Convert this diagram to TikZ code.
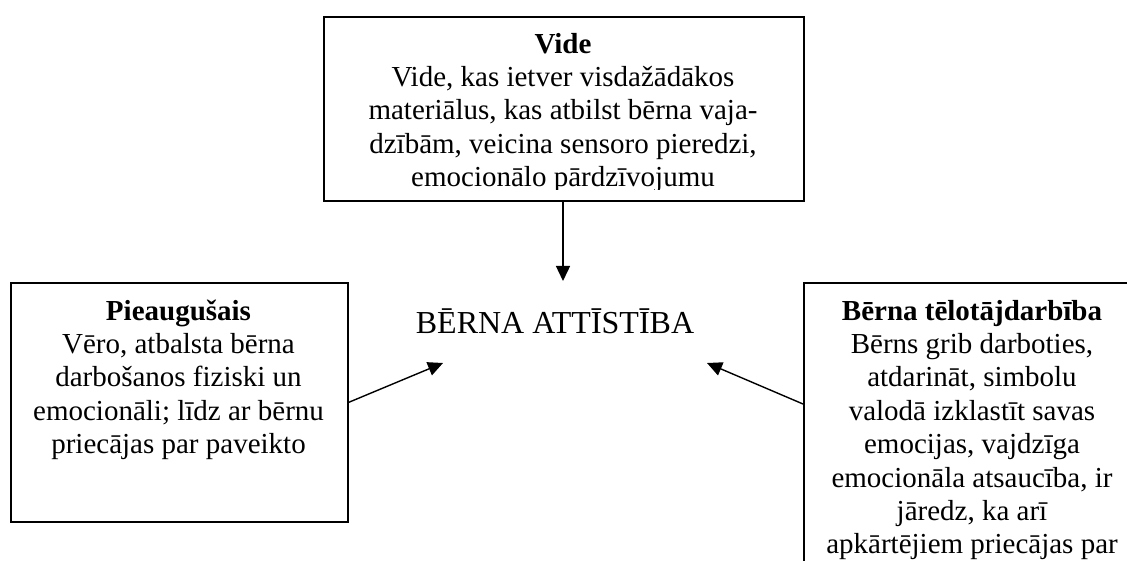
\documentclass[tikz,border=0pt]{standalone}
\usepackage{fontspec}
\setmainfont{Liberation Serif}
\usetikzlibrary{arrows.meta}
\begin{document}
\begin{tikzpicture}[x=1pt,y=-1pt,
  box/.style={draw=black,line width=1.7pt,rectangle,inner sep=0pt,anchor=north west},
  txt/.style={align=center,inner sep=0pt,anchor=north,font=\fontsize{29}{33.4}\selectfont},
  arr/.style={line width=1.4pt,-{Triangle[length=15pt,width=14pt]}}]
\path[use as bounding box] (0,0) rectangle (1127,561);
\clip (0,0) rectangle (1127,561);
% boxes
\node[box,minimum width=480pt,minimum height=184pt] (vide) at (323,16) {};
\node[box,minimum width=337pt,minimum height=239pt] (pa) at (10,282) {};
\node[box,minimum width=360pt,minimum height=320pt] (bt) at (803,282) {};
% texts
\begin{scope}
\clip (323,16) rectangle (803,190);
\node[txt] (videtxt) at (563,29.6) {\strut\textbf{Vide}\\Vide, kas ietver visdažādākos\\materiālus, kas atbilst bērna vaja-\\dzībām, veicina sensoro pieredzi,\\emocionālo pārdzīvojumu};
\end{scope}
\node[txt] (patxt) at (178.5,296.6) {\strut\textbf{Pieaugušais}\\Vēro, atbalsta bērna\\darbošanos fiziski un\\emocionāli; līdz ar bērnu\\priecājas par paveikto};
\node[txt] (bttxt) at (972,296.6) {\strut\textbf{Bērna tēlotājdarbība}\\Bērns grib darboties,\\atdarināt, simbolu\\valodā izklastīt savas\\emocijas, vajdzīga\\emocionāla atsaucība, ir\\jāredz, ka arī\\apkārtējiem priecājas par};
\node[inner sep=0pt,anchor=base,font=\fontsize{32}{38}\selectfont] (center) at (555,334) {BĒRNA ATTĪSTĪBA};
% arrow ends
\coordinate (topend) at (563,281);
\coordinate (leftend) at (443,363);
\coordinate (rightend) at (707,363);
\coordinate (rstart) at (803,404);
\draw[arr] (vide.south -| topend) -- (topend);
\draw[arr] (pa.east) -- (leftend);
\draw[arr] (rstart) -- (rightend);
\end{tikzpicture}
\end{document}
